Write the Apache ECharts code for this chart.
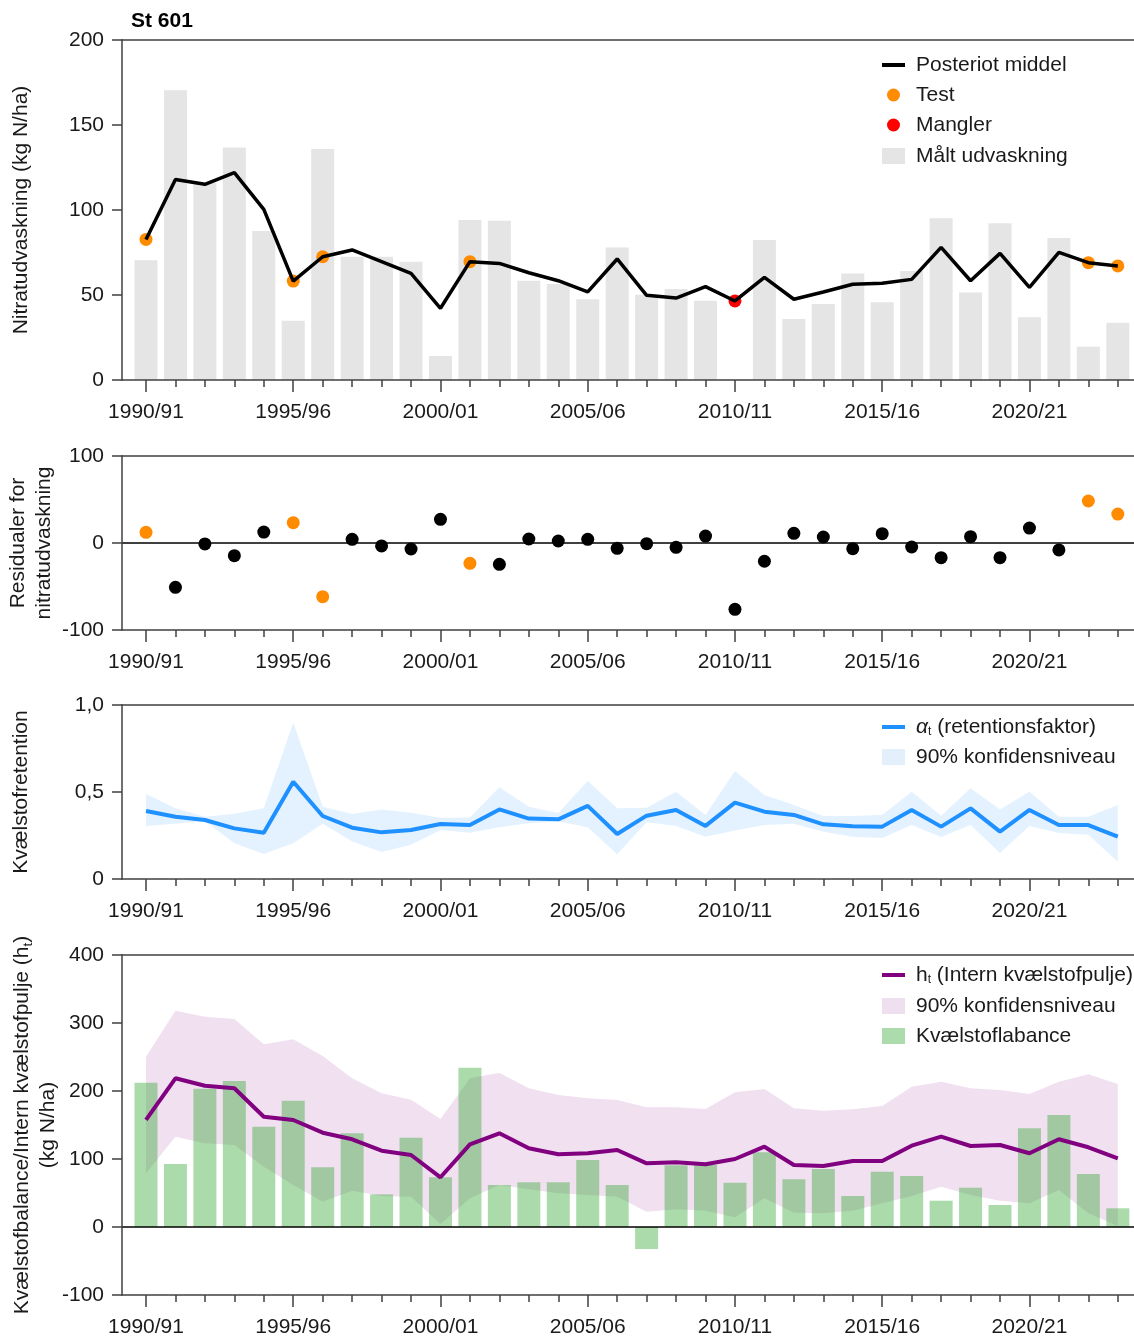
<!DOCTYPE html>
<html>
<head>
<meta charset="utf-8">
<script src="https://cdn.jsdelivr.net/npm/echarts@6/dist/echarts.min.js"></script>
<style>
  html, body { margin: 0; padding: 0; background: #fff; }
  #chart { width: 1134px; height: 1340px; }
</style>
</head>
<body>
<div id="chart"></div>
<script>
// Drainage seasons (hydrological years)
const seasons = [
  '1990/91', '1991/92', '1992/93', '1993/94', '1994/95', '1995/96', '1996/97', '1997/98',
  '1998/99', '1999/00', '2000/01', '2001/02', '2002/03', '2003/04', '2004/05', '2005/06',
  '2006/07', '2007/08', '2008/09', '2009/10', '2010/11', '2011/12', '2012/13', '2013/14',
  '2014/15', '2015/16', '2016/17', '2017/18', '2018/19', '2019/20', '2020/21', '2021/22',
  '2022/23', '2023/24'
];
// Seasons that carry a tick label
const labelledSeasons = [0, 5, 10, 15, 20, 25, 30];

// Measured nitrate leaching (kg N/ha); null = no measurement
const measured = [
  70.5, 170.5, 116, 136.8, 87.6, 34.9, 135.9, 72.5, 72.5, 69.6,
  14.1, 94.1, 93.7, 58.4, 56.5, 47.5, 78, 50.2, 53.5, 46.6,
  null, 82.4, 35.9, 44.7, 62.7, 45.7, 64.1, 95.1, 51.4, 92.2,
  36.9, 83.5, 19.6, 33.7
];
// Posterior mean of nitrate leaching (kg N/ha)
const posterior = [
  82.7, 118, 115.1, 122, 100.4, 58.2, 72.5, 76.5, 69.6, 62.7,
  42.2, 69.6, 68.6, 63.1, 58.4, 51.8, 71.2, 49.8, 48.2, 54.9,
  46.5, 60.4, 47.5, 51.8, 56.3, 56.9, 59.2, 78, 58.4, 74.5,
  54.5, 75.1, 69, 67.1
];
// Seasons held out as test data, and seasons without measurement
const testSeasons = [0, 5, 6, 11, 32, 33];
const missingSeasons = [20];

// Residuals for nitrate leaching
const residuals = [
  12.3, -50.9, -1.1, -14.6, 12.6, 23.4, -61.7, 4.2, -3.4, -6.9,
  27.2, -23.4, -24.5, 4.6, 2.3, 4.2, -6.1, -0.8, -5, 8,
  -76.2, -21, 11.1, 6.9, -6.5, 10.7, -4.6, -16.9, 7.3, -16.9,
  17.2, -8, 48.3, 33.3
];

// Retention factor alpha_t with 90 % interval
const alpha = [
  0.391, 0.358, 0.339, 0.291, 0.266, 0.559, 0.362, 0.295, 0.268, 0.282,
  0.316, 0.310, 0.400, 0.347, 0.343, 0.420, 0.259, 0.364, 0.397, 0.305,
  0.439, 0.387, 0.368, 0.314, 0.303, 0.301, 0.397, 0.301, 0.406, 0.272,
  0.397, 0.310, 0.310, 0.243
];
const alphaLow = [
  0.305, 0.318, 0.333, 0.205, 0.144, 0.205, 0.318, 0.215, 0.155, 0.197,
  0.282, 0.266, 0.298, 0.321, 0.331, 0.298, 0.142, 0.326, 0.305, 0.243,
  0.279, 0.310, 0.318, 0.272, 0.243, 0.236, 0.310, 0.241, 0.310, 0.149,
  0.305, 0.264, 0.255, 0.099
];
const alphaHigh = [
  0.489, 0.406, 0.358, 0.375, 0.406, 0.900, 0.415, 0.374, 0.400, 0.381,
  0.352, 0.354, 0.527, 0.415, 0.380, 0.563, 0.406, 0.410, 0.502, 0.368,
  0.621, 0.483, 0.425, 0.362, 0.362, 0.368, 0.502, 0.364, 0.521, 0.400,
  0.502, 0.358, 0.358, 0.425
];

// Nitrogen balance (kg N/ha)
const balance = [
  212.2, 92.6, 203.4, 214.7, 147.5, 185.7, 87.8, 137.8, 48.0, 131.4,
  73.1, 234.3, 61.8, 65.7, 65.7, 98.5, 61.8, -32.4, 90.7, 91.2,
  65.2, 109.8, 70.1, 85.3, 45.6, 81.4, 75, 38.7, 57.8, 32.4,
  145.1, 164.7, 77.9, 27.5
];
// Internal nitrogen pool h_t (kg N/ha) with 90 % interval
const pool = [
  157.4, 218.7, 207.8, 204, 162.2, 157.4, 138.7, 129, 112.2, 105.9,
  73.1, 121.6, 137.8, 115.7, 106.9, 108.4, 113.2, 93.6, 95.1, 92.2,
  100, 118.1, 91.2, 89.7, 97.1, 97.1, 119.6, 132.8, 119.1, 120.6,
  108.4, 129, 117.2, 101
];
const poolLow = [
  79, 132.8, 123, 120.6, 88.7, 61.8, 37.2, 53.4, 45.6, 44.6,
  4.4, 42.2, 61.8, 55.4, 49.5, 47, 44.6, 22.5, 26, 24,
  14.2, 42.2, 21, 20.1, 24, 34.8, 45.6, 59.3, 47, 38.7,
  34.8, 54.4, 20.1, 1.5
];
const poolHigh = [
  250.5, 318, 309.3, 305.9, 268.7, 276, 251.5, 218.7, 196.6, 187,
  158.8, 218.7, 226.9, 204, 194.1, 189.2, 186.8, 176, 176, 173.5,
  198, 203, 174.6, 171, 173.1, 178, 206.3, 213.7, 204, 201.5,
  195.6, 213.7, 224.5, 210.3
];

// ---------- styling ----------
const FONT = '"Liberation Sans", Arial, Helvetica, sans-serif';
const TEXT = '#1a1a1a';
const AXIS = { color: '#404040', width: 1.5 };
const X_MIN = -0.815;
const X_MAX = 33.55;

const pairs = (arr, idx) => (idx || arr.map((_, i) => i))
  .filter(i => arr[i] != null)
  .map(i => [i, arr[i]]);
const otherSeasons = seasons.map((_, i) => i).filter(i => testSeasons.indexOf(i) < 0);

const gridBase = { left: 122, right: 0, outerBoundsMode: 'none', containLabel: false };
const grids = [
  Object.assign({ top: 40, height: 340 }, gridBase),
  Object.assign({ top: 456, height: 174 }, gridBase),
  Object.assign({ top: 705, height: 174 }, gridBase),
  Object.assign({ top: 955, height: 340 }, gridBase)
];

// three x axes per panel: labelled long ticks, short yearly ticks, top frame line
const xAxes = [];
grids.forEach((g, gi) => {
  const base = { type: 'value', gridIndex: gi, min: X_MIN, max: X_MAX, splitLine: { show: false }, z: 5 };
  xAxes.push(Object.assign({}, base, {
    position: 'bottom',
    axisLine: { show: true, onZero: false, lineStyle: AXIS },
    axisTick: { show: true, customValues: labelledSeasons, length: 12, lineStyle: AXIS },
    axisLabel: {
      show: true, customValues: labelledSeasons, formatter: v => seasons[v],
      margin: 22, fontSize: 21, color: TEXT, fontFamily: FONT
    }
  }));
  xAxes.push(Object.assign({}, base, {
    position: 'bottom',
    axisLine: { show: false, onZero: false },
    axisTick: { show: true, customValues: seasons.map((_, i) => i), length: 7, lineStyle: AXIS },
    axisLabel: { show: false }
  }));
  xAxes.push(Object.assign({}, base, {
    position: 'top',
    axisLine: { show: true, onZero: false, lineStyle: AXIS },
    axisTick: { show: false },
    axisLabel: { show: false }
  }));
});

const subRich = { s: { fontSize: 13, verticalAlign: 'bottom', fontFamily: FONT, color: TEXT } };

function yAxis(gi, min, max, interval, name, nameGap, formatter) {
  return {
    type: 'value', gridIndex: gi, min, max, interval, z: 5,
    name, nameLocation: 'middle', nameRotate: 90, nameGap, nameMoveOverlap: false,
    nameTextStyle: { fontSize: 21, color: TEXT, fontFamily: FONT, lineHeight: 26, rich: subRich },
    axisLine: { show: true, onZero: false, lineStyle: AXIS },
    axisTick: { show: true, length: 10, lineStyle: AXIS },
    axisLabel: { margin: 18, fontSize: 21, color: TEXT, fontFamily: FONT, formatter },
    splitLine: { show: false }
  };
}

const yAxes = [
  yAxis(0, 0, 200, 50, 'Nitratudvaskning (kg N/ha)', 88),
  yAxis(1, -100, 100, 100, 'Residualer for\nnitratudvaskning', 65),
  yAxis(2, 0, 1, 0.5, 'Kvælstofretention', 88,
        v => v === 0 ? '0' : v.toFixed(1).replace('.', ',')),
  yAxis(3, -100, 400, 100, 'Kvælstofbalance/Intern kvælstofpulje (h{s|t})\n(kg N/ha)', 61)
];

const zeroLine = {
  silent: true, symbol: ['none', 'none'], label: { show: false },
  lineStyle: { color: '#000', width: 1.5, type: 'solid' },
  data: [{ yAxis: 0 }]
};

// filled 90 % interval drawn as one polygon through the axis scales
function bandSeries(name, gi, low, high, color) {
  return {
    type: 'custom', name, xAxisIndex: gi * 3, yAxisIndex: gi,
    data: [[0, low[0]]], encode: { x: 0, y: 1 }, silent: true,
    itemStyle: { color },
    renderItem: (params, api) => {
      const upper = high.map((v, i) => api.coord([i, v]));
      const lower = low.map((v, i) => api.coord([i, v])).reverse();
      return { type: 'polygon', shape: { points: upper.concat(lower) }, style: { fill: color } };
    }
  };
}

const C = {
  grey: '#e5e5e5', orange: '#ff8c00', red: '#ff0000',
  blue: '#1e90ff', blueBand: 'rgba(30,144,255,0.12)',
  purple: '#800080', purpleBand: 'rgba(128,0,128,0.12)',
  green: 'rgba(60,170,60,0.43)'
};

const dot = color => ({ color, opacity: 1 });

const series = [
  // panel 1
  { type: 'bar', name: 'Målt udvaskning', xAxisIndex: 0, yAxisIndex: 0, barWidth: 23,
    itemStyle: { color: C.grey }, data: pairs(measured) },
  { type: 'line', name: 'Posteriot middel', xAxisIndex: 0, yAxisIndex: 0, symbol: 'none',
    lineStyle: { color: '#000', width: 3.5 }, itemStyle: { color: '#000' }, data: pairs(posterior) },
  { type: 'scatter', name: 'Test', xAxisIndex: 0, yAxisIndex: 0, symbolSize: 13,
    itemStyle: dot(C.orange), data: pairs(posterior, testSeasons) },
  { type: 'scatter', name: 'Mangler', xAxisIndex: 0, yAxisIndex: 0, symbolSize: 13,
    itemStyle: dot(C.red), data: pairs(posterior, missingSeasons) },
  // panel 2
  { type: 'scatter', name: 'residualer', xAxisIndex: 3, yAxisIndex: 1, symbolSize: 13,
    itemStyle: dot('#000'), data: pairs(residuals, otherSeasons), markLine: zeroLine },
  { type: 'scatter', name: 'residualer test', xAxisIndex: 3, yAxisIndex: 1, symbolSize: 13,
    itemStyle: dot(C.orange), data: pairs(residuals, testSeasons) },
  // panel 3
  bandSeries('alphaBand', 2, alphaLow, alphaHigh, C.blueBand),
  { type: 'line', name: 'alpha', xAxisIndex: 6, yAxisIndex: 2, symbol: 'none',
    lineStyle: { color: C.blue, width: 4 }, itemStyle: { color: C.blue }, data: pairs(alpha) },
  // panel 4
  { type: 'bar', name: 'Kvælstoflabance', xAxisIndex: 9, yAxisIndex: 3, barWidth: 23,
    itemStyle: { color: C.green }, data: pairs(balance), markLine: zeroLine },
  bandSeries('poolBand', 3, poolLow, poolHigh, C.purpleBand),
  { type: 'line', name: 'pool', xAxisIndex: 9, yAxisIndex: 3, symbol: 'none',
    lineStyle: { color: C.purple, width: 4 }, itemStyle: { color: C.purple }, data: pairs(pool) }
];

// one legend row per entry so every key can have its own icon size
function legendRow(name, top, itemHeight, icon, color, formatter) {
  // a circle is drawn centred in the 23 px slot; the legend box starts at the circle
  const left = icon === 'circle' ? 882 + (23 - itemHeight) / 2 : 882;
  return {
    show: true, orient: 'horizontal', left, top, padding: 0,
    itemWidth: 23, itemHeight, itemGap: 0, selectedMode: false,
    itemStyle: { borderWidth: 0 },
    data: [{ name, icon, itemStyle: { color, borderWidth: 0, opacity: 1 } }],
    formatter,
    textStyle: {
      fontSize: 21, color: TEXT, fontFamily: FONT, lineHeight: 22, padding: [0, 0, 0, 6],
      rich: {
        s: { fontSize: 12, verticalAlign: 'bottom', fontFamily: FONT, color: TEXT },
        a: { fontSize: 21, fontStyle: 'italic', fontFamily: FONT, color: TEXT }
      }
    }
  };
}

const legends = [
  legendRow('Posteriot middel', 54, 4, 'rect', '#000'),
  legendRow('Test', 84, 13, 'circle', C.orange),
  legendRow('Mangler', 114, 13, 'circle', C.red),
  legendRow('Målt udvaskning', 145, 16, 'rect', C.grey),
  legendRow('alpha', 716, 4, 'rect', C.blue, '{a|α}{s|t} (retentionsfaktor)'),
  legendRow('alphaBand', 746, 16, 'rect', '#e3f0fc', '90% konfidensniveau'),
  legendRow('pool', 964, 4, 'rect', C.purple, 'h{s|t} (Intern kvælstofpulje)'),
  legendRow('poolBand', 995, 16, 'rect', '#efe0f0', '90% konfidensniveau'),
  legendRow('Kvælstoflabance', 1025, 16, 'rect', '#acdbac')
];

const chart = echarts.init(document.getElementById('chart'), null, { renderer: 'canvas' });
chart.setOption({
  animation: false,
  backgroundColor: '#ffffff',
  textStyle: { fontFamily: FONT },
  title: {
    text: 'St 601', left: 131, top: 11, padding: 0,
    textStyle: { fontSize: 21, fontWeight: 'bold', color: '#000', fontFamily: FONT }
  },
  legend: legends,
  grid: grids,
  xAxis: xAxes,
  yAxis: yAxes,
  series
});
</script>
</body>
</html>
